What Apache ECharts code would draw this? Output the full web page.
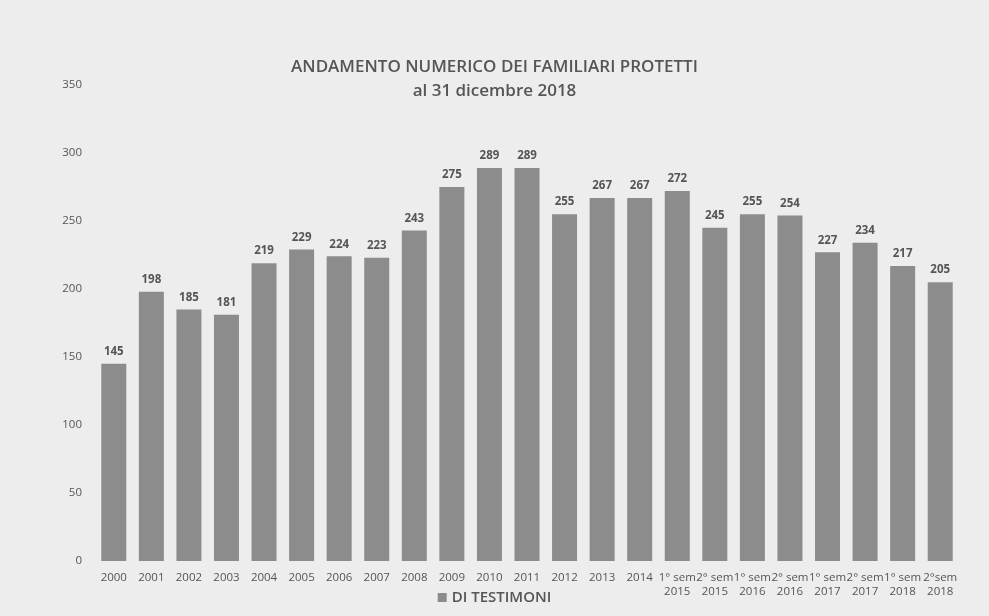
<!DOCTYPE html>
<html>
<head>
<meta charset="utf-8">
<script src="https://cdn.jsdelivr.net/npm/echarts@6/dist/echarts.min.js"></script>
<style>
  html, body { margin: 0; padding: 0; background: #ededed; }
  #chart { width: 989px; height: 616px; }
</style>
</head>
<body>
<div id="chart"></div>
<script>
// categorie (anni e semestri)
var categories = ['2000', '2001', '2002', '2003', '2004', '2005', '2006', '2007', '2008', '2009',
  '2010', '2011', '2012', '2013', '2014',
  '1° sem\n2015', '2° sem\n2015', '1° sem\n2016', '2° sem\n2016',
  '1° sem\n2017', '2° sem\n2017', '1° sem\n2018', '2°sem\n2018']
// familiari protetti
var testimoni = [145, 198, 185, 181, 219, 229, 224, 223, 243, 275, 289, 289, 255, 267, 267,
  272, 245, 255, 254, 227, 234, 217, 205]

var myChart = echarts.init(document.getElementById('chart'))
var option = {
  backgroundColor: '#ededed',
  textStyle: { fontFamily: 'Open Sans' },
  title: {
    text: 'ANDAMENTO NUMERICO DEI FAMILIARI PROTETTI\nal 31 dicembre 2018',
    left: 'center',
    top: 50,
    textStyle: {
      color: '#555',
      fontSize: 17,
      fontWeight: 600,
      lineHeight: 24,
      fontFamily: 'Open Sans'
    }
  },
  legend: {
    bottom: 6,
    left: 'center',
    itemWidth: 9,
    itemHeight: 9,
    itemGap: 4,
    icon: 'rect',
    selectedMode: false,
    textStyle: { color: '#555', fontSize: 15, fontWeight: 600 }
  },
  grid: {
    left: 95,
    right: 30,
    top: 85,
    bottom: 55
  },
  xAxis: {
    type: 'category',
    data: categories,
    axisLine: { show: false },
    axisTick: { show: false },
    axisLabel: {
      interval: 0,
      color: '#555',
      fontSize: 11.5,
      margin: 10,
      lineHeight: 14
    }
  },
  yAxis: {
    type: 'value',
    min: 0,
    max: 350,
    interval: 50,
    axisLine: { show: false },
    axisTick: { show: false },
    splitLine: { show: false },
    axisLabel: { color: '#555', fontSize: 11.5, margin: 13 }
  },
  series: [{
    name: 'DI TESTIMONI',
    type: 'bar',
    data: testimoni,
    barWidth: 25,
    itemStyle: { color: '#8c8c8c' },
    label: {
      show: true,
      position: 'top',
      distance: 6,
      color: '#555',
      fontSize: 11.5,
      fontWeight: 'bold'
    }
  }],
  animation: false
}
myChart.setOption(option)
</script>
</body>
</html>
